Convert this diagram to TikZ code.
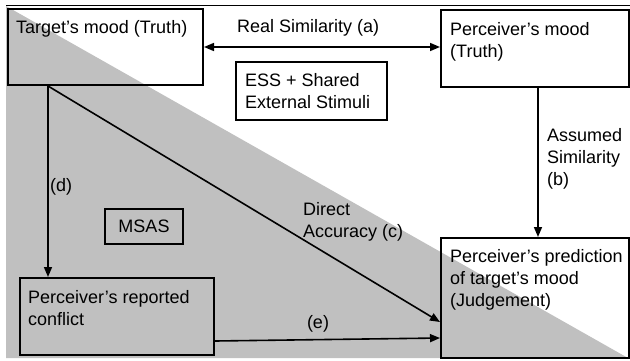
\documentclass[tikz,border=0pt]{standalone}
\usepackage{fontspec}
\setmainfont{Liberation Sans}
\usetikzlibrary{arrows.meta,calc}
\definecolor{greyfill}{RGB}{192,192,192}
\begin{document}
\begin{tikzpicture}[x=1pt,y=-1pt,
  box/.style={draw=black, line width=2pt, rectangle, inner sep=0pt, anchor=north west},
  txt/.style={anchor=base west, inner sep=0pt, font=\fontsize{18}{22}\selectfont, align=left},
  arr/.style={line width=1.6pt, -{Triangle[length=10pt,width=8pt]}},
]
\useasboundingbox (0,0) rectangle (630,360);
\fill[greyfill] (6,6) -- (6,358) -- (628,358) -- cycle;
\draw[line width=1pt] (6,5.5) -- (630,5.5);

\node[box, minimum width=195pt, minimum height=76pt] (tm) at (7,8) {};
\node[box, minimum width=188pt, minimum height=77pt] (pm) at (440,9) {};
\node[box, minimum width=151pt, minimum height=58pt] (ess) at (235,61) {};
\node[box, minimum width=78pt, minimum height=35pt] (msas) at (104,208) {};
\node[box, minimum width=194pt, minimum height=77pt] (rc) at (19,277) {};
\node[box, minimum width=188pt, minimum height=120pt] (pj) at (440,237) {};

\node[txt] (ttm) at (16,33) {Target’s mood (Truth)};
\node[txt] (tpm) at (450,57) {Perceiver’s mood\\(Truth)};
\node[txt] (tess) at (245,108) {ESS + Shared\\External Stimuli};
\node[txt, anchor=center] (tmsas) at (msas.center) {MSAS};
\node[txt] (trc) at (28,325) {Perceiver’s reported\\conflict};
\node[txt] (tpj) at (450,306) {Perceiver’s prediction\\of target’s mood\\(Judgement)};

\node[txt] (la) at (237,32) {Real Similarity (a)};
\node[txt] (lb) at (547,185) {Assumed\\Similarity\\(b)};
\node[txt] (lc) at (303,237) {Direct\\Accuracy (c)};
\node[txt] (ld) at (50,191) {(d)};
\node[txt, anchor=base] (le) at (318,328) {(e)};

\coordinate (d0) at ($(tm.south west)+(41,0)$);
\draw[arr, {Triangle[length=10pt,width=8pt]}-{Triangle[length=10pt,width=8pt]}] (tm.east) -- (tm.east -| pm.west);
\draw[arr] (d0) -- (d0 |- rc.north);
\draw[arr] (d0) -- ($(pj.north west)+(0,85)$);
\draw[arr] ($(pm.south west)+(98,0)$) -- ($(pj.north west)+(98,0)$);
\draw[arr] ($(rc.south east)+(0,-15)$) -- ($(pj.south west)+(0,-21)$);
\end{tikzpicture}
\end{document}
